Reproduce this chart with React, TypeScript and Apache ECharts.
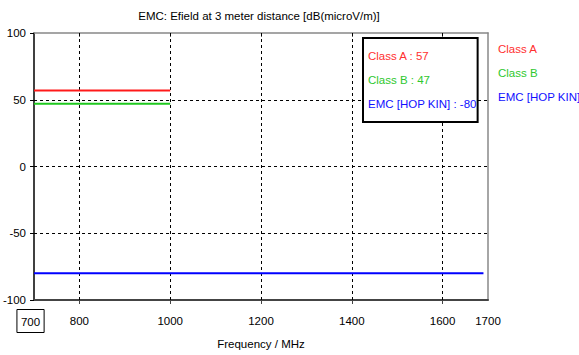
import React, { useEffect, useRef } from "react";
import * as echarts from "echarts";

const titleText = "EMC: Efield at 3 meter distance [dB(microV/m)]";
const xAxisName = "Frequency / MHz";
const seriesNames = ["Class A", "Class B", "EMC [HOP KIN]"];
const seriesColors = ["#ff1a1a", "#1ec81e", "#0000ff"];
const textColors = ["#ff3030", "#2ec82e", "#1010ff"];
const classAFreq = [700, 1000];
const classAValues = [57, 57];
const classBFreq = [700, 1000];
const classBValues = [47, 47];
const emcFreq = [700, 1690];
const emcValues = [-80, -80];
const xLabelValues = [700, 800, 1000, 1200, 1400, 1600, 1700];
const xGridValues = [800, 1000, 1200, 1400, 1600];
const yGridValues = [50, 0, -50];

const FONT = "Liberation Sans, Arial, sans-serif";
const FS = 11.5;

export default function App() {
  const ref = useRef<HTMLDivElement>(null);
  useEffect(() => {
    if (!ref.current) return;
    const chart = echarts.init(ref.current, null, { renderer: "svg" });
    const freqs = [classAFreq, classBFreq, emcFreq];
    const vals = [classAValues, classBValues, emcValues];
    const series: any[] = seriesNames.map((name, i) => ({
      name,
      type: "line",
      data: freqs[i].map((f, j) => [f, vals[i][j]]),
      symbol: "none",
      lineStyle: { color: seriesColors[i], width: 2 },
      itemStyle: { color: seriesColors[i] },
      z: 5,
    }));
    series.push({
      name: "grid",
      type: "line",
      data: [],
      silent: true,
      z: 1,
      markLine: {
        silent: true,
        symbol: "none",
        label: { show: false },
        lineStyle: { color: "#000", type: [3, 3], width: 1 },
        data: [
          ...xGridValues.map((v) => ({ xAxis: v })),
          ...yGridValues.map((v) => ({ yAxis: v })),
        ],
      },
    });
    const legendData = seriesNames.map((name, i) => ({
      name,
      textStyle: { color: textColors[i] },
    }));
    const lastVal = (i: number) => vals[i][0];
    chart.setOption({
      animation: false,
      backgroundColor: "#fff",
      textStyle: { fontFamily: FONT },
      title: {
        text: titleText,
        left: 254,
        top: 5,
        textAlign: "center",
        textStyle: { fontSize: FS, fontWeight: "normal", color: "#000", fontFamily: FONT },
      },
      grid: { left: 33, right: 91, top: 33, bottom: 55, containLabel: false },
      legend: [
        {
          show: true,
          data: legendData,
          orient: "vertical",
          left: 488,
          top: 37,
          icon: "none",
          itemWidth: 0,
          itemHeight: 14,
          itemGap: 11,
          selectedMode: false,
          textStyle: { fontSize: FS, fontFamily: FONT },
        },
        {
          show: true,
          data: legendData,
          orient: "vertical",
          left: 363,
          top: 38,
          icon: "none",
          itemWidth: 0,
          itemHeight: 14,
          itemGap: 11,
          padding: [11, 1, 12, 0],
          borderColor: "#000",
          borderWidth: 2,
          backgroundColor: "#fff",
          selectedMode: false,
          formatter: (name: string) => `${name} : ${lastVal(seriesNames.indexOf(name))}`,
          textStyle: { fontSize: FS, fontFamily: FONT },
          z: 10,
        },
      ],
      xAxis: [
        {
          type: "value",
          min: 700,
          max: 1700,
          interval: 100,
          name: xAxisName,
          nameLocation: "middle",
          nameGap: 37,
          nameTextStyle: { fontSize: FS, color: "#000", fontFamily: FONT },
          axisLine: { show: true, onZero: false, lineStyle: { color: "#444", width: 2 } },
          axisTick: { show: true, inside: false, length: 4, customValues: xGridValues, lineStyle: { color: "#444" } },
          axisLabel: {
            show: true,
            customValues: xLabelValues,
            margin: 21,
            verticalAlign: "middle",
            color: "#000",
            fontSize: FS,
            fontFamily: FONT,
            formatter: (v: number) => (v === 700 ? `{box|${v}}{sp|}` : `${v}`),
            rich: {
              box: {
                borderColor: "#000",
                borderWidth: 1,
                padding: [6, 4, 5, 4],
                fontSize: FS,
                color: "#000",
                fontFamily: FONT,
              },
              sp: { width: 7 },
            },
          },
          splitLine: { show: false },
        },
        {
          type: "value",
          position: "top",
          min: 700,
          max: 1700,
          interval: 100,
          axisLine: { show: true, onZero: false, lineStyle: { color: "#888", width: 1.5 } },
          axisTick: { show: true, inside: true, length: 4, customValues: xGridValues, lineStyle: { color: "#666" } },
          axisLabel: { show: false },
          splitLine: { show: false },
        },
      ],
      yAxis: [
        {
          type: "value",
          min: -100,
          max: 100,
          interval: 50,
          axisLine: { show: true, onZero: false, lineStyle: { color: "#000", width: 1.5 } },
          axisTick: { show: true, inside: false, length: 4, lineStyle: { color: "#000" } },
          axisLabel: { color: "#000", fontSize: FS, margin: 8, fontFamily: FONT },
          splitLine: { show: false },
        },
        {
          type: "value",
          position: "right",
          min: -100,
          max: 100,
          interval: 50,
          axisLine: { show: true, onZero: false, lineStyle: { color: "#888", width: 1.5 } },
          axisTick: { show: false },
          axisLabel: { show: false },
          splitLine: { show: false },
        },
      ],
      series,
    });
    return () => chart.dispose();
  }, []);
  return (
    <div
      ref={ref}
      style={{ position: "fixed", left: 0, top: 0, width: 579, height: 355 }}
    />
  );
}
